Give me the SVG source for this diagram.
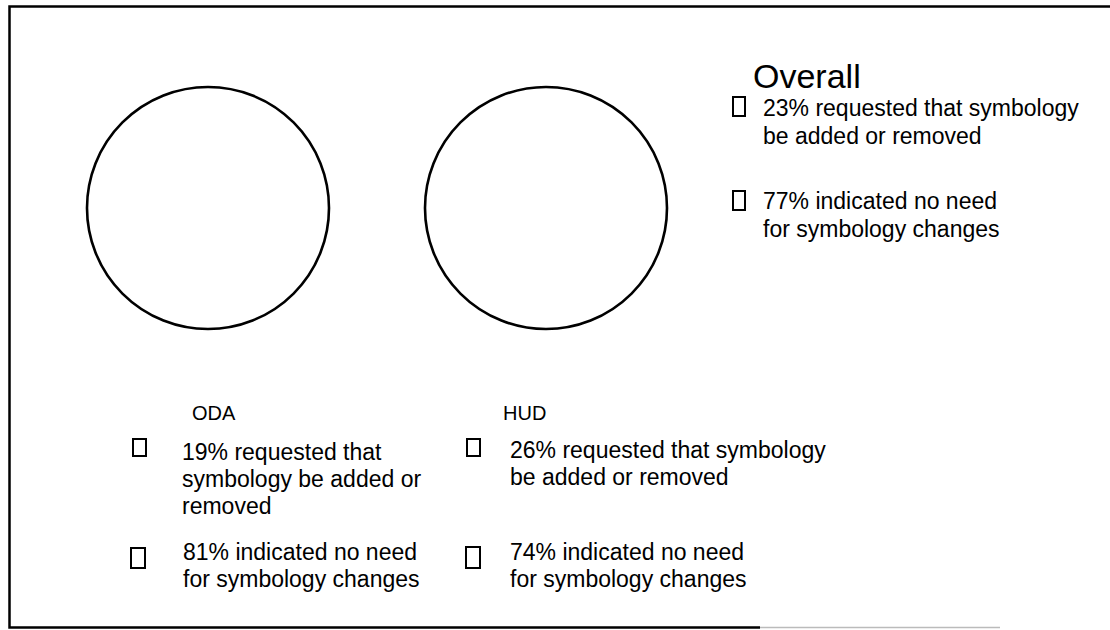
<svg xmlns="http://www.w3.org/2000/svg" width="1110" height="630" viewBox="0 0 1110 630">
<style>
.t{font-family:"Liberation Sans",Arial,sans-serif;font-size:23px;fill:#000}
.lbl{font-family:"Liberation Sans",Arial,sans-serif;font-size:20px;fill:#000}
.pie{fill:#fff;stroke:#000;stroke-width:2.6}
.box{fill:#fff;stroke:#000;stroke-width:2}
</style>
<rect width="1110" height="630" fill="#fff"/>
<g id="frame">
<path d="M1110 6.5 H9.5 V627.5 H760" fill="none" stroke="#000" stroke-width="2.5"/>
<path d="M760 627.5 H1000" fill="none" stroke="#bbb" stroke-width="1.5"/>
</g>
<g id="oda">
<circle class="pie" cx="208" cy="208" r="121"/>
<text class="lbl" x="192" y="420">ODA</text>
</g>
<g id="hud">
<circle class="pie" cx="546" cy="208" r="121"/>
<text class="lbl" x="503" y="420">HUD</text>
</g>
<g id="overall">
<text class="t" x="753" y="88" style="font-size:34px">Overall</text>
<rect class="box" x="733" y="97" width="12" height="19"/>
<text class="t" x="763" y="116">23% requested that symbology</text>
<text class="t" x="763" y="144">be added or removed</text>
<rect class="box" x="733" y="191" width="12" height="19"/>
<text class="t" x="763" y="209">77% indicated no need</text>
<text class="t" x="763" y="237">for symbology changes</text>
</g>
<g id="oda-legend">
<rect class="box" x="133" y="439" width="13" height="17"/>
<text class="t" x="182" y="460">19% requested that</text>
<text class="t" x="182" y="487">symbology be added or</text>
<text class="t" x="182" y="514">removed</text>
<rect class="box" x="131" y="548" width="14" height="20"/>
<text class="t" x="183" y="560">81% indicated no need</text>
<text class="t" x="183" y="587">for symbology changes</text>
</g>
<g id="hud-legend">
<rect class="box" x="467" y="439" width="13" height="17"/>
<text class="t" x="510" y="458">26% requested that symbology</text>
<text class="t" x="510" y="485">be added or removed</text>
<rect class="box" x="466" y="547" width="14" height="21"/>
<text class="t" x="510" y="560">74% indicated no need</text>
<text class="t" x="510" y="587">for symbology changes</text>
</g>
<g id="connectors"></g>
</svg>
